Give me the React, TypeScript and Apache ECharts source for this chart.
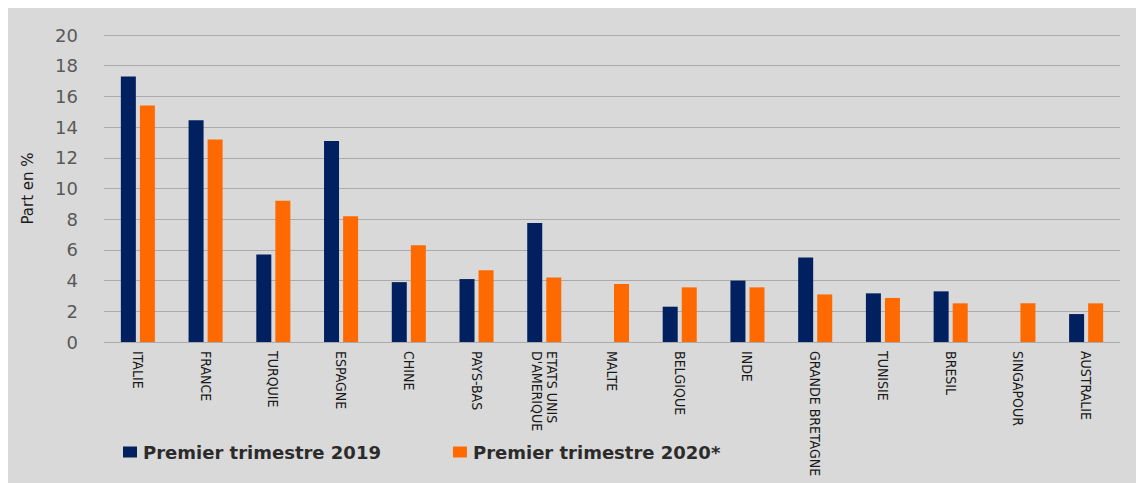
import React, { useEffect, useRef } from "react";
import * as echarts from "echarts";

const categories = [
  "ITALIE", "FRANCE", "TURQUIE", "ESPAGNE", "CHINE", "PAYS-BAS",
  "ETATS UNIS\nD'AMERIQUE", "MALTE", "BELGIQUE", "INDE", "GRANDE BRETAGNE",
  "TUNISIE", "BRESIL", "SINGAPOUR", "AUSTRALIE",
];
const serie2019: (number | null)[] = [17.3, 14.45, 5.7, 13.1, 3.9, 4.1, 7.75, null, 2.3, 4.0, 5.5, 3.17, 3.3, null, 1.82];
const serie2020: number[] = [15.4, 13.2, 9.2, 8.2, 6.3, 4.67, 4.2, 3.78, 3.56, 3.56, 3.1, 2.87, 2.52, 2.52, 2.52];
const name2019 = "Premier trimestre 2019";
const name2020 = "Premier trimestre 2020*";

export default function App() {
  const ref = useRef<HTMLDivElement>(null);
  useEffect(() => {
    if (!ref.current) return;
    const chart = echarts.init(ref.current, null, { renderer: "svg" });
    chart.setOption({
      animation: false,
      backgroundColor: "#d9d9d9",
      grid: { left: 96, right: 24, top: 27, bottom: 141 },
      legend: {
        left: 110,
        top: 430,
        itemWidth: 14,
        itemHeight: 11,
        itemGap: 72,
        icon: "rect",
        textStyle: {
          fontFamily: "DejaVu Sans",
          fontWeight: "bold",
          fontSize: 18,
          color: "#2b2b2b",
          padding: [0, 0, 0, 1],
        },
        data: [name2019, name2020],
      },
      xAxis: {
        type: "category",
        data: categories,
        axisLine: { show: false },
        axisTick: { show: false },
        axisLabel: {
          interval: 0,
          rotate: -90,
          margin: 9,
          fontFamily: "Liberation Sans Narrow, DejaVu Sans Condensed, sans-serif",
          fontSize: 14,
          color: "#1a1a1a",
          lineHeight: 15,
        },
      },
      yAxis: {
        type: "value",
        min: 0,
        max: 20,
        interval: 2,
        name: "Part en %",
        nameLocation: "middle",
        nameRotate: 90,
        nameGap: 69,
        nameTextStyle: {
          fontFamily: "DejaVu Sans",
          fontSize: 15,
          color: "#1a1a1a",
        },
        axisLine: { show: false },
        axisTick: { show: false },
        axisLabel: {
          margin: 26,
          fontFamily: "DejaVu Sans",
          fontSize: 18,
          color: "#595959",
        },
        splitLine: { lineStyle: { color: "#ababab", width: 1 } },
      },
      series: [
        {
          name: name2019,
          type: "bar",
          data: serie2019,
          barWidth: 15,
          barGap: "27%",
          itemStyle: { color: "#002060" },
        },
        {
          name: name2020,
          type: "bar",
          data: serie2020,
          barWidth: 15,
          itemStyle: { color: "#ff6a00" },
        },
      ],
    });
    return () => chart.dispose();
  }, []);
  return <div ref={ref} style={{ width: 1136, height: 475 }} />;
}
